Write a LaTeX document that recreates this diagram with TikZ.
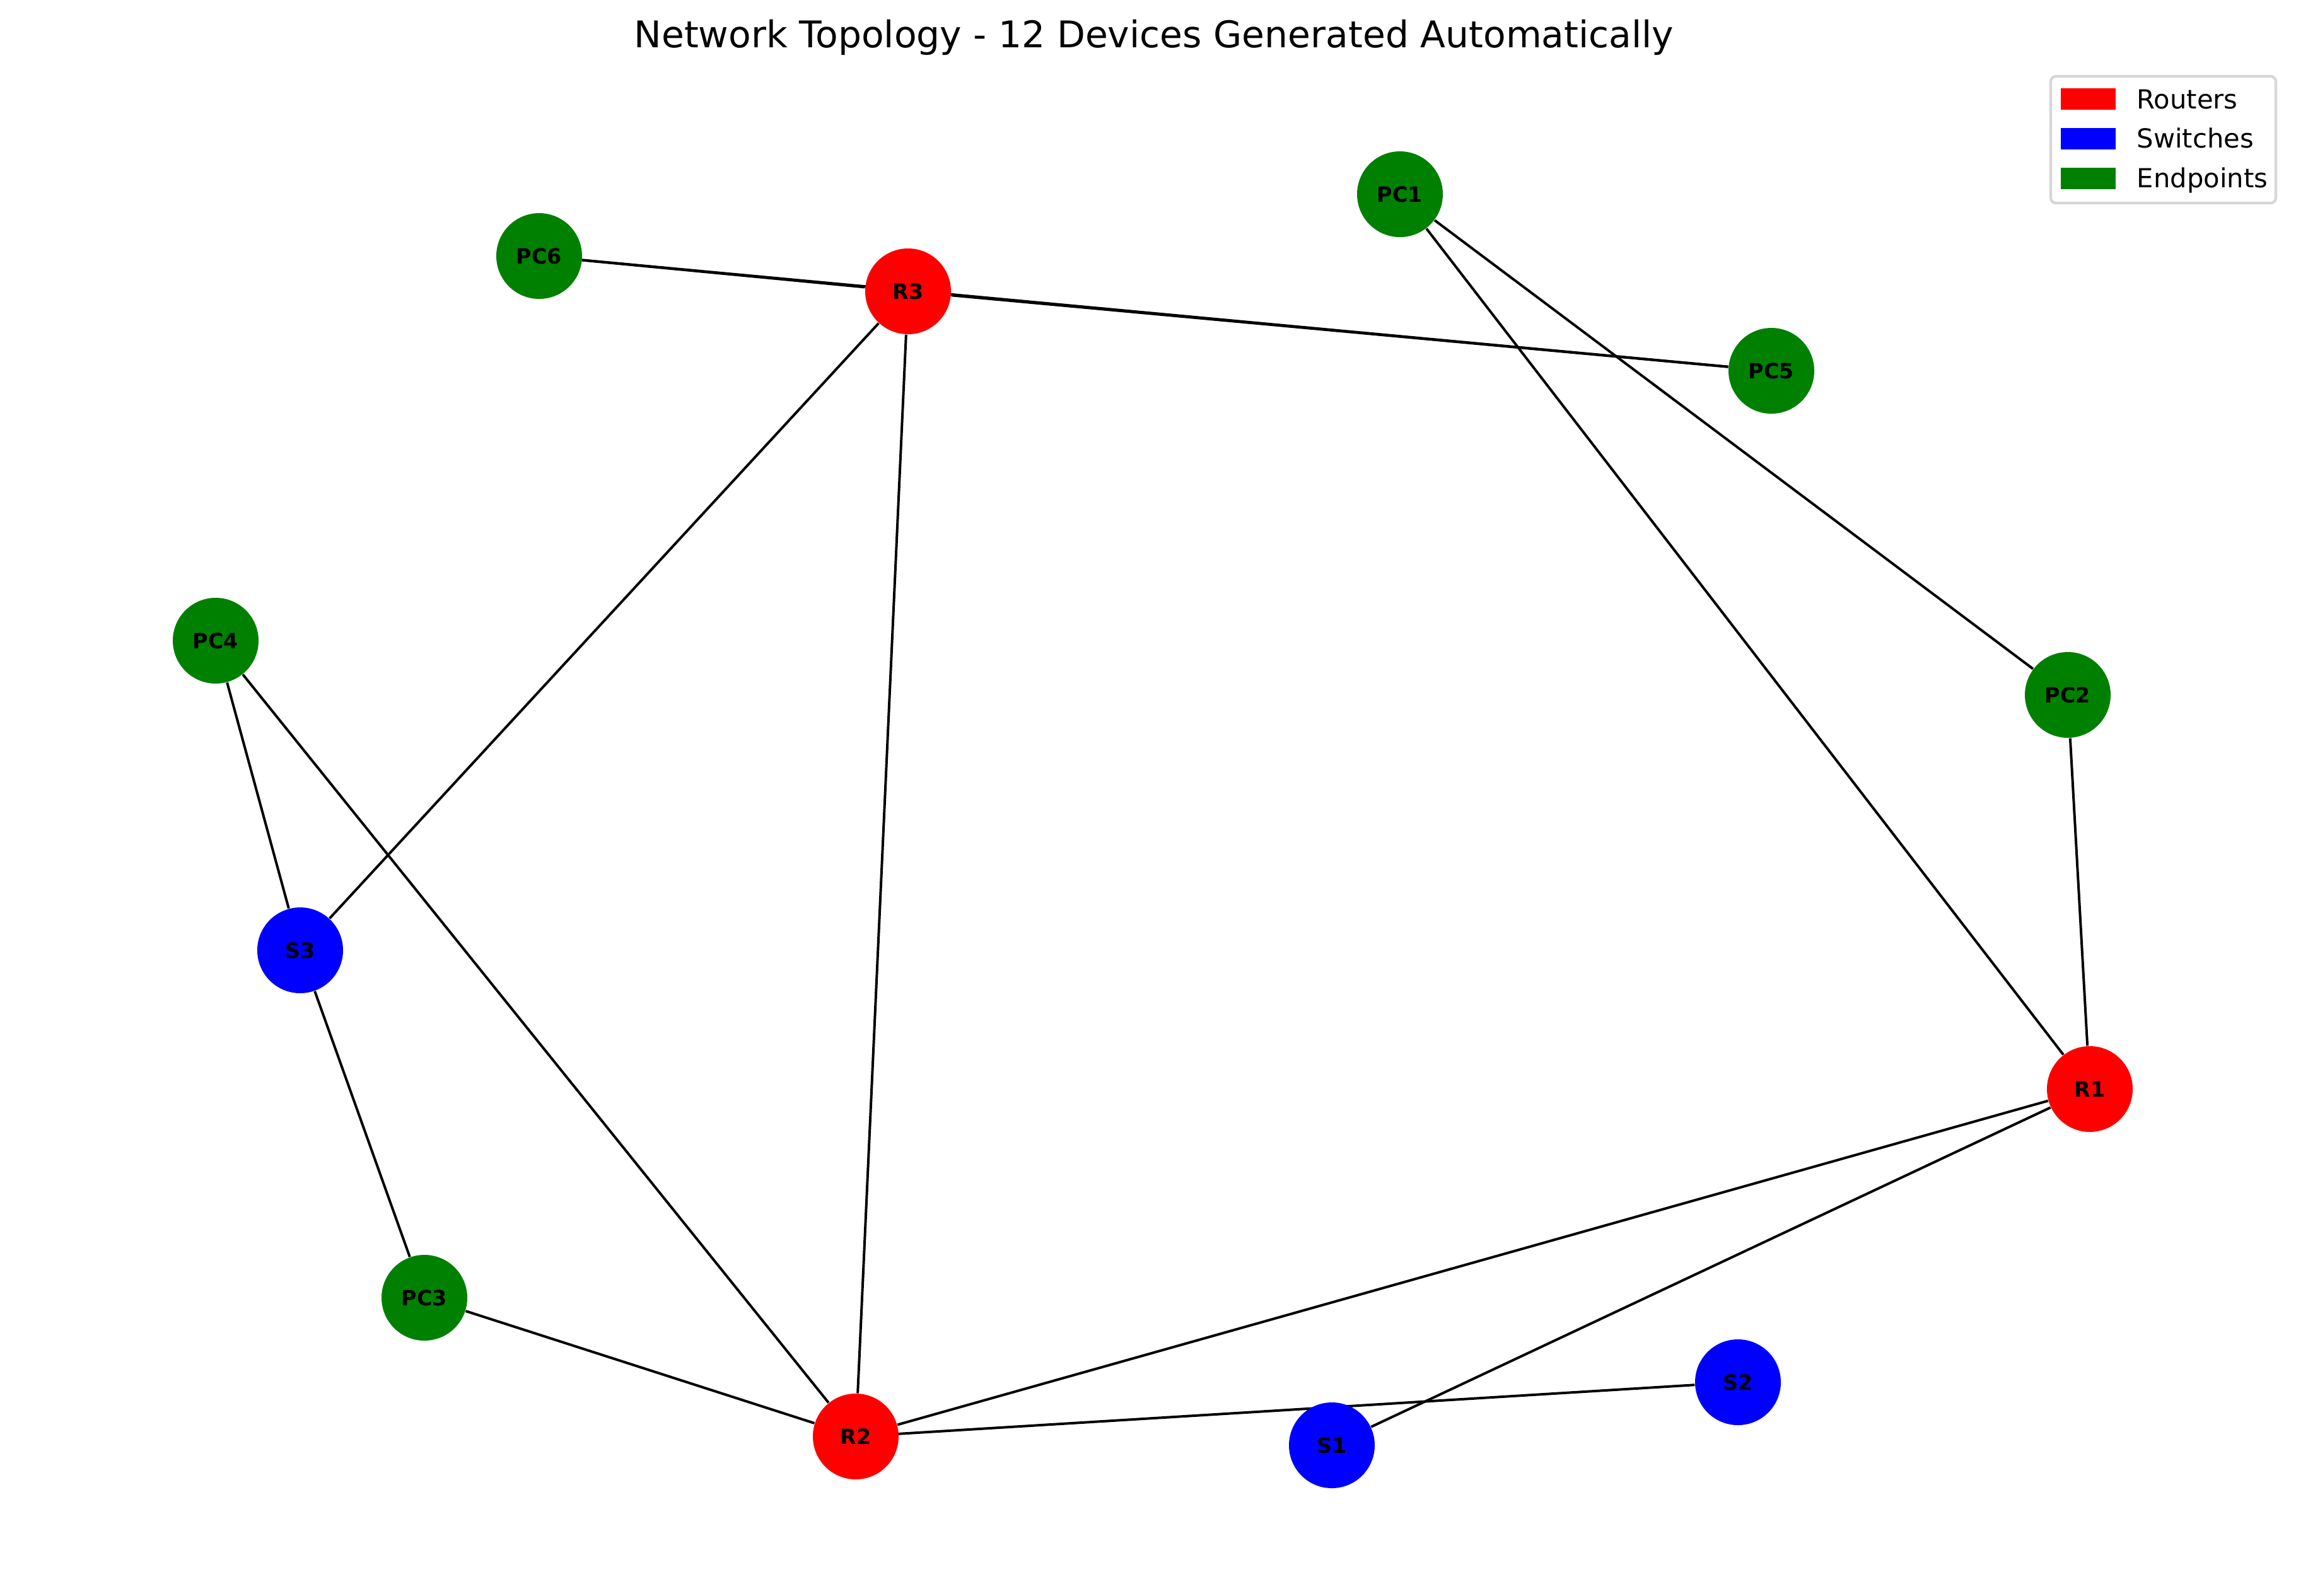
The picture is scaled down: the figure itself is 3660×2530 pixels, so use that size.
\documentclass[tikz,border=0pt]{standalone}
\usepackage{fontspec}
\setmainfont{DejaVu Sans}
\usetikzlibrary{backgrounds}
\definecolor{router}{HTML}{FF0000}
\definecolor{switch}{HTML}{0000FF}
\definecolor{endpt}{HTML}{008000}
\definecolor{legframe}{HTML}{D6D6D6}
\tikzset{
  dev/.style={circle, draw=none, minimum size=32.64pt, inner sep=0pt,
    font=\fontsize{8}{9}\selectfont\bfseries, text=black},
  rtr/.style={dev, fill=router},
  swt/.style={dev, fill=switch},
  ept/.style={dev, fill=endpt},
  link/.style={draw=black, line width=0.95pt},
  legpatch/.style={draw=none, inner sep=0pt, minimum width=20.9pt, minimum height=8.2pt},
  legtext/.style={anchor=base west, inner sep=0pt, font=\fontsize{10}{12}\selectfont}
}
\begin{document}
\begin{tikzpicture}[x=0.24pt, y=-0.24pt]
\useasboundingbox (0,0) rectangle (3660,2530);
% title
\node[anchor=base, inner sep=0pt, font=\fontsize{14}{17}\selectfont] (title) at (1830,75)
  {Network Topology - 12 Devices Generated Automatically};
% devices
\node[ept] (PC1) at (2220,308) {PC1};
\node[ept] (PC6) at (855,406) {PC6};
\node[rtr] (R3) at (1440,462) {R3};
\node[ept] (PC5) at (2809,588) {PC5};
\node[ept] (PC4) at (342,1016) {PC4};
\node[ept] (PC2) at (3279,1102) {PC2};
\node[swt] (S3) at (476,1507) {S3};
\node[rtr] (R1) at (3314,1727) {R1};
\node[ept] (PC3) at (673,2058) {PC3};
\node[swt] (S2) at (2756,2192) {S2};
\node[rtr] (R2) at (1357,2278) {R2};
\node[swt] (S1) at (2112,2292) {S1};
% links
\begin{scope}[on background layer]
\draw[link] (PC6) -- (R3);
\draw[link] (R3) -- (PC5);
\draw[link] (PC6.center) -- (PC5);
\draw[link] (R3) -- (S3);
\draw[link] (R3) -- (R2);
\draw[link] (PC1) -- (PC2);
\draw[link] (PC1) -- (R1);
\draw[link] (PC2) -- (R1);
\draw[link] (PC4) -- (S3);
\draw[link] (PC4) -- (R2);
\draw[link] (S3) -- (PC3);
\draw[link] (PC3) -- (R2);
\draw[link] (R2) -- (R1);
\draw[link] (R1) -- (S1);
\draw[link] (R2.center) -- (S2);
\end{scope}
% legend
\draw[draw=legframe, line width=1pt, fill=white, rounded corners=2pt] (3252,121) rectangle (3609,322);
\node[legpatch, fill=router, anchor=north west] (lr) at (3267,139) {};
\node[legpatch, fill=switch, anchor=north west] (ls) at (3267,202) {};
\node[legpatch, fill=endpt, anchor=north west] (le) at (3267,265) {};
\node[legtext] (tr) at (3388,172) {Routers};
\node[legtext] (ts) at (3388,234) {Switches};
\node[legtext] (te) at (3388,297) {Endpoints};
\end{tikzpicture}
\end{document}
